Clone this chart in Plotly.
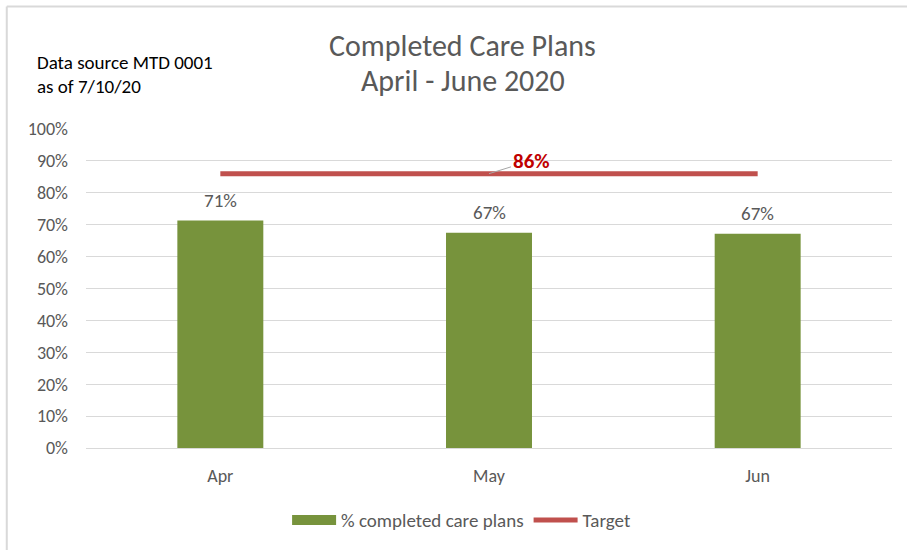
import plotly.graph_objects as go

months = ["Apr", "May", "Jun"]
completed = [0.713, 0.675, 0.672]
completed_labels = ["71%", "67%", "67%"]
target = [0.86, 0.86, 0.86]
target_label = "86%"
y_ticks = [0, 0.1, 0.2, 0.3, 0.4, 0.5, 0.6, 0.7, 0.8, 0.9, 1.0]
y_tick_labels = ["0%", "10%", "20%", "30%", "40%", "50%", "60%", "70%", "80%", "90%", "100%"]

FONT = "Carlito, Calibri, 'Liberation Sans Narrow', 'DejaVu Sans Condensed', sans-serif"
GRAY = "#595959"
GREEN = "#77933C"
RED = "#C0504D"

fig = go.Figure()
fig.add_trace(go.Bar(
    x=months, y=completed, name="% completed care plans",
    marker=dict(color=GREEN, line=dict(width=0)),
    width=0.32, showlegend=False,
))
fig.add_trace(go.Scatter(
    x=months, y=target, name="Target", mode="lines",
    line=dict(color=RED, width=5), showlegend=False,
))
# legend-only entries (wide swatch for the bar series)
fig.add_trace(go.Scatter(
    x=[None], y=[None], name="% completed care plans", mode="lines",
    line=dict(color=GREEN, width=12),
))
fig.add_trace(go.Scatter(
    x=[None], y=[None], name="Target", mode="lines",
    line=dict(color=RED, width=5),
))

for m, v, lab in zip(months, completed, completed_labels):
    fig.add_annotation(x=m, y=v, xref="x", yref="y", text=lab, showarrow=False,
                       yanchor="bottom", yshift=7,
                       font=dict(size=19, color=GRAY, family=FONT))

fig.add_annotation(
    x="May", y=target[1], xref="x", yref="y",
    text="<b>" + target_label + "</b>", showarrow=True, arrowhead=0, arrowwidth=1,
    arrowcolor="#A6A6A6", ax=42, ay=-13, xanchor="center",
    font=dict(size=21, color="#C00000", family=FONT),
)

fig.add_annotation(xref="paper", yref="paper", x=0.4677, y=1.262,
                   text="Completed Care Plans", showarrow=False,
                   font=dict(size=30, color=GRAY, family=FONT),
                   xanchor="center", yanchor="middle")
fig.add_annotation(xref="paper", yref="paper", x=0.4677, y=1.153,
                   text="April - June 2020", showarrow=False,
                   font=dict(size=30, color=GRAY, family=FONT),
                   xanchor="center", yanchor="middle")
fig.add_annotation(xref="paper", yref="paper", x=-0.0634, y=1.209,
                   text="Data source MTD 0001", showarrow=False,
                   font=dict(size=19, color="#000000", family=FONT),
                   xanchor="left", yanchor="middle")
fig.add_annotation(xref="paper", yref="paper", x=-0.0634, y=1.134,
                   text="as of 7/10/20", showarrow=False,
                   font=dict(size=19, color="#000000", family=FONT),
                   xanchor="left", yanchor="middle")

# frame lines (left and top edge of chart box)
fig.add_shape(type="line", xref="paper", yref="paper",
              x0=-0.0983, x1=-0.0983, y0=-0.4, y1=1.384,
              line=dict(color="#D9D9D9", width=2))
fig.add_shape(type="line", xref="paper", yref="paper",
              x0=-0.0983, x1=1.05, y0=1.384, y1=1.384,
              line=dict(color="#D9D9D9", width=2))

fig.update_layout(
    width=907, height=550,
    margin=dict(l=86, r=15, t=129, b=101),
    paper_bgcolor="white", plot_bgcolor="white",
    font=dict(family=FONT, color=GRAY, size=18),
    showlegend=True,
    legend=dict(orientation="h", x=0.466, xanchor="center", y=-0.222, yanchor="middle",
                font=dict(size=19, color=GRAY, family=FONT),
                traceorder="normal", itemwidth=44),
)
fig.update_xaxes(showgrid=False, showline=True, linecolor="#D9D9D9", linewidth=1,
                 ticks="", ticklabelstandoff=11,
                 tickfont=dict(size=18, color=GRAY, family=FONT))
fig.update_yaxes(range=[0, 1], tickvals=y_ticks, ticktext=y_tick_labels,
                 showgrid=True, gridcolor="#D9D9D9", gridwidth=1,
                 zeroline=False, showline=False, ticks="", ticklabelstandoff=17,
                 tickfont=dict(size=18, color=GRAY, family=FONT))

fig.write_html("out.html", config={"displayModeBar": False},
               post_script="document.body.style.margin='0';")
